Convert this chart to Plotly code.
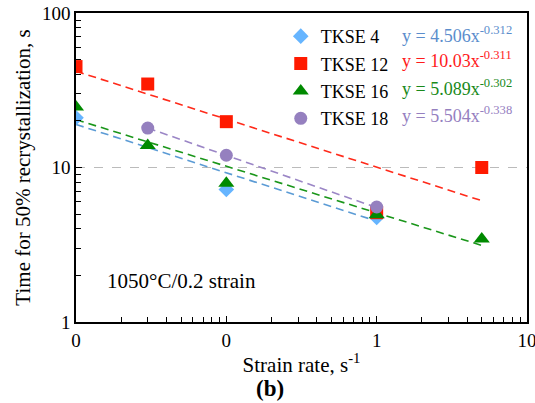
import plotly.graph_objects as go

# ---- data ----
names = ["TKSE 4", "TKSE 12", "TKSE 16", "TKSE 18"]
x_tkse4 = [0.01, 0.1, 1]
y_tkse4 = [21.0, 7.2, 4.75]
x_tkse12 = [0.01, 0.03, 0.1, 1, 5]
y_tkse12 = [45.0, 34.7, 19.8, 5.1, 10.0]
x_tkse16 = [0.01, 0.03, 0.1, 1, 5]
y_tkse16 = [24.6, 13.9, 7.9, 4.95, 3.45]
x_tkse18 = [0.03, 0.1, 1]
y_tkse18 = [18.0, 12.0, 5.55]

# trend line end points
fit_x = [[0.01, 1], [0.01, 5], [0.01, 5], [0.03, 1]]
fit_y = [[19.0, 4.5], [42.0, 6.1], [20.4, 3.13], [18.0, 5.5]]
eq_coef = ["4.506", "10.03", "5.089", "5.504"]
eq_exp = ["-0.312", "-0.311", "-0.302", "-0.338"]

x_tickvals = [0.01, 0.1, 1, 10]
x_ticktext = ["0", "0", "1", "10"]
y_tickvals = [1, 10, 100]
y_ticktext = ["1", "10", "100"]

xs = [x_tkse4, x_tkse12, x_tkse16, x_tkse18]
ys = [y_tkse4, y_tkse12, y_tkse16, y_tkse18]
marker_colors = ["#66B5FF", "#FF1A00", "#008A00", "#9580BF"]
line_colors = ["#5B9BD5", "#FF2A1A", "#1A961A", "#9B86C6"]
eq_colors = ["#5B8DCC", "#FF1A1A", "#1A8A1A", "#9580BF"]
symbols = ["diamond", "square", "triangle-up", "circle"]
sizes = [12, 13, 14, 13]

FONT = "Liberation Serif"

fig = go.Figure()
for i in range(4):
    fig.add_trace(go.Scatter(
        x=fit_x[i], y=fit_y[i], mode="lines",
        line=dict(color=line_colors[i], width=1.6, dash="8px,5px"),
        showlegend=False, hoverinfo="skip"))
for i in range(4):
    fig.add_trace(go.Scatter(
        x=xs[i], y=ys[i], mode="markers", name=names[i],
        legendgroup=names[i],
        marker=dict(symbol=symbols[i], size=sizes[i], color=marker_colors[i],
                    line=dict(width=0))))

annotations = []
row_y = [0.932, 0.848, 0.760, 0.672]
for i in range(4):
    annotations.append(dict(
        xref="paper", yref="paper", x=0.718, y=row_y[i],
        xanchor="left", yanchor="middle", showarrow=False,
        text=f"y = {eq_coef[i]}x<sup>{eq_exp[i]}</sup>",
        font=dict(family=FONT, size=18, color=eq_colors[i])))
annotations.append(dict(
    xref="paper", yref="paper", x=0.064, y=0.133, xanchor="left",
    yanchor="middle", showarrow=False, text="1050°C/0.2 strain",
    font=dict(family=FONT, size=21, color="black")))
annotations.append(dict(
    xref="paper", yref="paper", x=0.43, y=-0.214, xanchor="center",
    yanchor="middle", showarrow=False, text="<b>(b)</b>",
    font=dict(family=FONT, size=23, color="black")))

minor_x = [m * 10 ** e for e in range(-2, 1) for m in range(2, 10)]
minor_y = [m * 10 ** e for e in range(0, 2) for m in range(2, 10)]

fig.update_layout(
    width=535, height=403,
    margin=dict(l=76, r=8, t=13, b=81, autoexpand=False),
    paper_bgcolor="white", plot_bgcolor="white",
    font=dict(family=FONT, size=19, color="black"),
    showlegend=True,
    legend=dict(x=0.454, y=0.984, xanchor="left", yanchor="top",
                bgcolor="rgba(0,0,0,0)", font=dict(family=FONT, size=18),
                itemwidth=30, tracegroupgap=1),
    annotations=annotations,
    xaxis=dict(
        type="log", range=[-2, 1], automargin=False,
        tickmode="array", tickvals=x_tickvals, ticktext=x_ticktext,
        ticklabeloverflow="allow",
        ticks="inside", ticklen=6, tickwidth=1.3, tickcolor="black",
        showline=True, linecolor="black", linewidth=1.6, mirror=True,
        showgrid=False, zeroline=False,
        minor=dict(tickvals=minor_x, ticks="inside", ticklen=5,
                   tickwidth=1.2, tickcolor="black", showgrid=False),
        tickfont=dict(family=FONT, size=19),
        title=dict(text="Strain rate, s<sup>-1</sup>",
                   font=dict(family=FONT, size=21), standoff=8),
    ),
    yaxis=dict(
        type="log", range=[0, 2], automargin=False,
        tickmode="array", tickvals=y_tickvals, ticktext=y_ticktext,
        ticks="inside", ticklen=6, tickwidth=1.3, tickcolor="black",
        showline=True, linecolor="black", linewidth=1.6, mirror=True,
        showgrid=True, gridcolor="#BBBBBB", griddash="dash", gridwidth=1,
        zeroline=False,
        minor=dict(tickvals=minor_y, ticks="inside", ticklen=5,
                   tickwidth=1.2, tickcolor="black", showgrid=False),
        tickfont=dict(family=FONT, size=19),
        title=dict(text="Time for 50% recrystallization, s",
                   font=dict(family=FONT, size=21), standoff=6),
    ),
)

fig.write_html("out.html")
